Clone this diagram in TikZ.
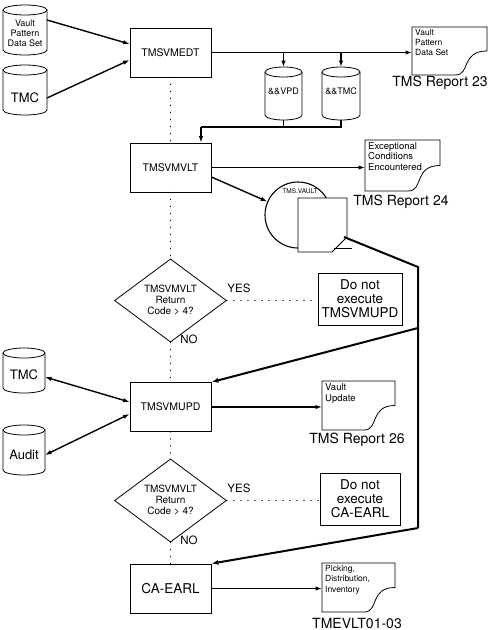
\documentclass[tikz,border=0pt]{standalone}
\usepackage{fontspec}
\setmainfont{TeX Gyre Heros}
\usetikzlibrary{arrows.meta,shapes.geometric}
\tikzset{
  shapeline/.style={draw, line width=0.8pt, fill=white},
  anchorbox/.style={draw=none, inner sep=0pt, outer sep=0pt},
  box/.style={draw, line width=0.8pt, minimum width=81pt, minimum height=49pt, inner sep=0pt, font=\fontsize{10.5}{12}\selectfont},
  dnbox/.style={draw, line width=0.8pt, minimum width=84pt, minimum height=52pt, inner sep=0pt, align=center, font=\fontsize{13.5}{14}\selectfont},
  dia/.style={diamond, draw, line width=0.8pt, minimum width=112pt, minimum height=67pt, inner sep=0pt, align=center, font=\fontsize{10}{11}\selectfont},
  conn/.style={line width=1.4pt, -{Latex[length=6.5pt,width=4.5pt]}},
  biconn/.style={line width=1.4pt, {Latex[length=6.5pt,width=4.5pt]}-{Latex[length=6.5pt,width=4.5pt]}},
  plain/.style={line width=1.4pt},
  heavy/.style={line width=2pt},
  heavyarr/.style={line width=2pt, -{Latex[length=7pt,width=5pt]}},
  dots/.style={line width=1.6pt, dash pattern=on 0.01pt off 7pt, line cap=round},
  lbl/.style={inner sep=0pt, font=\fontsize{11.5}{13}\selectfont},
  rlabel/.style={inner sep=0pt, font=\fontsize{14}{16}\selectfont},
}
% name, x1, y1, x2, y2, text y, font, text
\newcommand\cylnode[8]{%
  \draw[shapeline] (#2,{#3+5}) -- (#2,{#5-5}) arc[start angle=180,end angle=0,x radius={(#4-#2)/2},y radius=5] -- (#4,{#3+5});
  \draw[shapeline] ({(#2+#4)/2},{#3+5}) ellipse [x radius={(#4-#2)/2},y radius=5];
  \node[anchorbox, minimum width={(#4-#2)*1pt}, minimum height={(#5-#3)*1pt}] (#1) at ({(#2+#4)/2},{(#3+#5)/2}) {};
  \node[align=center, inner sep=0pt, font=#7] (#1t) at ({(#2+#4)/2},#6) {#8};
}
% name, x1, y1, x2, y2, font, text
\newcommand\docnode[7]{%
  \draw[shapeline] (#2,#3) -- (#4,#3) -- (#4,{#3+0.5*(#5-#3)})
    .. controls ({#4-0.35*(#4-#2)},{#3+0.5*(#5-#3)}) and ({#4-0.22*(#4-#2)},#5) .. ({#4-0.42*(#4-#2)},#5)
    -- (#2,#5) -- cycle;
  \node[anchorbox, minimum width={(#4-#2)*1pt}, minimum height={(#5-#3)*1pt}] (#1) at ({(#2+#4)/2},{(#3+#5)/2}) {};
  \node[anchor=north west, align=left, inner sep=0pt, font=#6] (#1t) at ({#2+3},{#3+2}) {#7};
}
\begin{document}
\begin{tikzpicture}[x=1pt,y=-1pt]
\useasboundingbox (0,0) rectangle (496,630);
\fill[white] (0,0) rectangle (496,630);

% ---------- cylinders ----------
\cylnode{vps}{3}{5}{47}{55}{33}{\fontsize{9}{10}\selectfont}{Vault\\Pattern\\Data Set}
\cylnode{tmca}{3}{65}{47}{115}{98}{\fontsize{13}{15}\selectfont}{TMC}
\cylnode{vpd}{265}{67}{302}{120}{91}{\fontsize{9}{10}\selectfont}{\&\&VPD}
\cylnode{tmcb}{322}{67}{360}{120}{91}{\fontsize{9}{10}\selectfont}{\&\&TMC}
\cylnode{tmcc}{3}{348}{45}{393}{375}{\fontsize{13}{15}\selectfont}{TMC}
\cylnode{audit}{3}{425}{45}{475}{455}{\fontsize{13}{15}\selectfont}{Audit}

% ---------- documents ----------
\docnode{rep23}{412}{27}{487}{75}{\fontsize{8.5}{10}\selectfont}{Vault\\Pattern\\Data Set}
\docnode{rep24}{365}{140}{440}{191}{\fontsize{9.5}{10.5}\selectfont}{Exceptional\\Conditions\\Encountered}
\docnode{rep26}{322}{381}{395}{430}{\fontsize{9.5}{11}\selectfont}{Vault\\Update}
\docnode{rep27}{322}{563}{395}{612}{\fontsize{8.5}{10.5}\selectfont}{Picking,\\Distribution,\\Inventory}

\node[rlabel] (r23) at (440,83) {TMS Report 23};
\node[rlabel] (r24) at (401,202) {TMS Report 24};
\node[rlabel] (r26) at (357,440) {TMS Report 26};
\node[rlabel] (r27) at (357,623) {TMEVLT01-03};

% ---------- process boxes ----------
\node[box] (medt) at (170.5,52.5) {TMSVMEDT};
\node[box] (mvlt) at (170.5,167.5) {TMSVMVLT};
\node[box] (mupd) at (170.5,407) {TMSVMUPD};
\node[box, font=\fontsize{13.5}{15}\selectfont] (earl) at (170.5,588.5) {CA-EARL};

\node[dia] (d1) at (170.5,300.5) {TMSVMVLT\\Return\\Code > 4?};
\node[dia] (d2) at (170.5,500.5) {TMSVMVLT\\Return\\Code > 4?};

\node[dnbox] (dnx1) at (360,299) {Do not\\execute\\TMSVMUPD};
\node[dnbox, minimum width=80pt] (dnx2) at (360,499) {Do not\\execute\\CA-EARL};

\node[lbl] (yes1) at (239,288) {YES};
\node[lbl] (no1) at (189,339) {NO};
\node[lbl] (yes2) at (239,488) {YES};
\node[lbl] (no2) at (189,540) {NO};

% ---------- tape ----------
\node[circle, draw, line width=1.1pt, minimum size=66pt, inner sep=0pt] (tapec) at (298,215) {};
\node[inner sep=0pt, font=\fontsize{6.5}{7}\selectfont] (tapel) at (300,191) {TMS.VAULT};
\draw[shapeline] (298,198) -- (347,198) -- (347,237) -- (332,252) -- (298,252) -- cycle;
\coordinate (tailA) at (334,248);
\coordinate (tailB) at (352,248);
\draw[line width=0.8pt] (tailA) -- (tailB);
\coordinate (tapecut) at (344,237);
\coordinate (tp1) at (418,267);
\coordinate (tp2) at (418,328);
\coordinate (tp3) at (418,528);

% ---------- connectors ----------
\draw[conn] ([yshift=10pt]vps.east) -- ([yshift=8.5pt]medt.west);
\draw[conn] ([yshift=-8pt]tmca.east) -- ([yshift=-7.5pt]medt.west);
\draw[conn] (medt.east) -- (medt.east -| rep23.west);
\draw[conn] (vpd.north |- medt.east) -- (vpd.north);
\draw[conn] (tmcb.north |- medt.east) -- (tmcb.north);
\coordinate (jn) at (201,127);
\draw[plain] (vpd.south) |- (jn);
\draw[plain] (tmcb.south) |- (jn);
\draw[conn] (jn) -- (jn |- mvlt.north);

\draw[conn] (mvlt.east) -- (mvlt.east -| rep24.west);
\draw[conn] ([yshift=-9.5pt]mvlt.east) -- (tapec);

\draw[heavy] (tapecut) -- (tp1) -- (tp3);
\draw[heavyarr] (tp2) -- (mupd.north east);
\draw[heavyarr] (tp3) -- (earl.north east);

\draw[biconn] ([yshift=-6.5pt]tmcc.east) -- ([yshift=5pt]mupd.west);
\draw[biconn] ([yshift=-5pt]audit.east) -- ([yshift=-7pt]mupd.west);
\draw[conn] (mupd.east) -- (mupd.east -| rep26.west);
\draw[conn] (earl.east) -- (earl.east -| rep27.west);

\draw[dots] (medt.south) -- (mvlt.north);
\draw[dots] (mvlt.south) -- (d1.north);
\draw[dots] (d1.south) -- (mupd.north);
\draw[dots] (mupd.south) -- (d2.north);
\draw[dots] (d2.south) -- (earl.north);
\draw[dots] (d1.east) -- (d1.east -| dnx1.west);
\draw[dots] (d2.east) -- (d2.east -| dnx2.west);
\end{tikzpicture}
\end{document}
